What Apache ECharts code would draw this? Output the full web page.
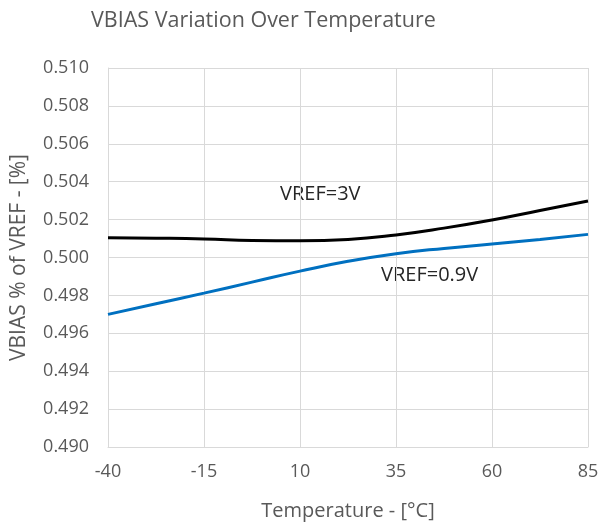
<!DOCTYPE html>
<html lang="en">
<head>
    <meta charset="UTF-8">
    <title>VBIAS Variation Over Temperature</title>
    <script src="https://cdn.jsdelivr.net/npm/echarts@6/dist/echarts.min.js"></script>
    <style>
        html, body { margin: 0; padding: 0; background: #fff; }
        #container { width: 598px; height: 527px; }
    </style>
</head>
<body>
<div id="container"></div>
<script>
    // data
    var temps = [-40, -27.5, -15, -2.5, 10, 22.5, 35, 47.5, 60, 72.5, 85];
    var vref3 = [0.50104, 0.50102, 0.50098, 0.50090, 0.50088, 0.50095, 0.50119, 0.50155, 0.50198, 0.50248, 0.50298];
    var vref09 = [0.49700, 0.49756, 0.49812, 0.49870, 0.49928, 0.49980, 0.50020, 0.50048, 0.50071, 0.50095, 0.50122];
    var xTicks = [-40, -15, 10, 35, 60, 85];

    // x axis runs from 0 so the 25 degree steps line up with -40
    var tMin = xTicks[0];

    function pairs(xs, ys) {
        var out = [];
        for (var i = 0; i < xs.length; i++) {
            out.push([xs[i] - tMin, ys[i]]);
        }
        return out;
    }

    var font = 'Open Sans';
    var grey = '#595959';

    var myChart = echarts.init(document.getElementById('container'));

    option = {
        animation: false,
        title: {
            text: 'VBIAS Variation Over Temperature',
            left: 86,
            top: 5,
            textStyle: { fontFamily: font, fontSize: 21.5, fontWeight: 'normal', color: grey }
        },
        grid: { left: 108, right: 10, top: 68, bottom: 80, containLabel: false, outerBoundsMode: 'none' },
        xAxis: {
            type: 'value',
            min: 0,
            max: xTicks[xTicks.length - 1] - tMin,
            interval: 25,
            name: 'Temperature - [°C]',
            nameLocation: 'middle',
            nameGap: 54,
            nameTextStyle: { fontFamily: font, fontSize: 20, color: grey },
            axisLine: { show: true, lineStyle: { color: '#d9d9d9' } },
            axisTick: { show: false },
            axisLabel: {
                fontFamily: font, fontSize: 18, color: grey, margin: 16,
                formatter: function (v) { return String(v + tMin); }
            },
            splitLine: { show: true, lineStyle: { color: '#d9d9d9', width: 1 } }
        },
        yAxis: {
            type: 'value',
            min: 0.490,
            max: 0.510,
            interval: 0.002,
            name: 'VBIAS % of VREF - [%]',
            nameLocation: 'middle',
            nameGap: 78,
            nameTextStyle: { fontFamily: font, fontSize: 21, color: grey },
            axisLine: { show: true, lineStyle: { color: '#d9d9d9' } },
            axisTick: { show: false },
            axisLabel: {
                fontFamily: font, fontSize: 18, color: grey, margin: 19,
                formatter: function (v) { return v.toFixed(3); }
            },
            splitLine: { show: true, lineStyle: { color: '#d9d9d9', width: 1 } }
        },
        graphic: [
            { type: 'text', left: 280, top: 184, style: { text: 'VREF=3V', font: '20px "Open Sans"', fill: '#262626' } },
            { type: 'text', left: 381, top: 265, style: { text: 'VREF=0.9V', font: '20px "Open Sans"', fill: '#262626' } }
        ],
        series: [
            {
                name: 'VREF=3V',
                type: 'line',
                smooth: true,
                showSymbol: false,
                data: pairs(temps, vref3),
                lineStyle: { color: '#000000', width: 3 }
            },
            {
                name: 'VREF=0.9V',
                type: 'line',
                smooth: true,
                showSymbol: false,
                data: pairs(temps, vref09),
                lineStyle: { color: '#0070c0', width: 3 }
            }
        ]
    };

    myChart.setOption(option);
</script>
</body>
</html>
